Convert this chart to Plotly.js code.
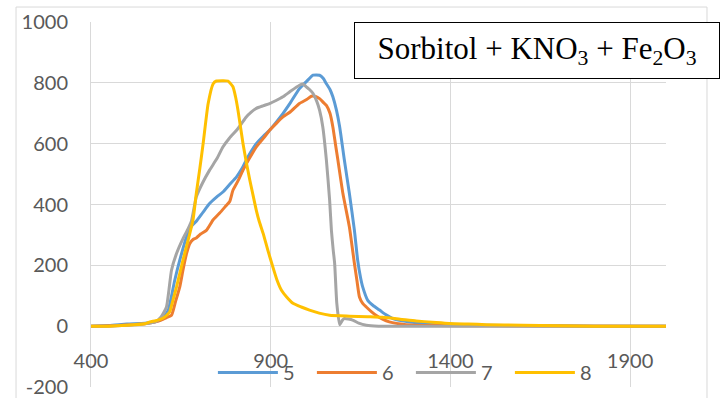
<!DOCTYPE html>
<html>
<head>
<meta charset="utf-8">
<script src="https://cdn.plot.ly/plotly-3.0.1.min.js"></script>
<style>html,body{margin:0;padding:0;background:#fff;}#chart{width:727px;height:398px;}</style>
</head>
<body>
<div id="chart"></div>
<script>
// Series 5 (blue)
const x5 = [400,450,500,550,580,600,615,633,647,666,680,693,712,730,750,767,785,805,820,832,845,860,880,897,915,934,955,980,1000,1018,1036,1046,1055,1065,1073,1083,1092,1105,1119,1133,1142,1150,1156,1170,1185,1203,1220,1240,1286,1342,1400,1500,1600,1700,1800,2000];
const y5 = [0,2,7,10,15,25,53,151,217,294,330,345,375,403,425,441,465,491,518,546,573,600,625,644,670,699,735,781,805,825,825,815,797,778,754,710,655,546,436,315,217,160,129,85,68,53,38,25,14,9,6,3,2,1,0,0];
// Series 6 (orange)
const x6 = [400,450,500,550,580,600,610,624,635,647,656,666,675,684,693,705,721,740,758,775,786,795,810,823,840,860,880,897,915,934,955,980,1000,1013,1025,1036,1047,1055,1065,1073,1080,1087,1101,1119,1133,1140,1147,1156,1166,1180,1193,1210,1230,1277,1350,1500,2000];
const y6 = [0,1,4,8,14,22,28,36,80,129,185,239,272,285,290,303,315,350,372,395,410,447,480,513,550,589,618,644,666,688,705,732,745,756,755,748,735,726,700,655,600,546,436,326,206,150,96,75,63,48,36,24,14,5,2,1,0];
// Series 7 (gray)
const x7 = [400,450,500,550,580,595,610,617,624,638,656,670,680,693,710,730,750,767,785,805,820,832,845,860,880,897,915,934,955,980,990,999,1008,1018,1028,1036,1045,1055,1064,1069,1074,1078,1084,1092,1100,1105,1128,1145,1166,1200,2000];
const y7 = [0,0,3,8,15,30,63,120,184,239,288,320,348,425,470,513,550,589,618,644,668,688,703,716,725,732,742,754,772,792,796,787,778,765,740,710,655,546,414,315,250,206,75,5,20,25,20,10,3,0,0];
// Series 8 (yellow)
const x8 = [400,450,500,550,564,580,600,610,619,628,638,656,675,684,693,703,712,726,740,749,765,781,795,802,809,816,823,832,842,851,860,868,879,892,906,918,930,945,962,985,1008,1035,1064,1119,1170,1211,1260,1305,1350,1397,1450,1500,1600,1700,1800,2000];
const y8 = [0,0,3,8,14,18,26,35,47,85,129,217,305,350,436,520,600,732,797,806,807,806,787,755,710,655,600,540,480,430,381,345,305,250,195,150,118,95,75,63,53,43,36,33,31,29,23,17,13,9,7,5,3,1,0,0];

const seriesNames = ['5','6','7','8'];
const colors = ['#5B9BD5','#ED7D31','#A5A5A5','#FFC000'];
const xTickVals = [400,900,1400,1900];
const xTickText = ['400','900','1400','1900'];
const yTickVals = [-200,0,200,400,600,800,1000];
const yTickText = ['-200','0','200','400','600','800','1000'];
const xs = [x5,x6,x7,x8];
const ys = [y5,y6,y7,y8];

const traces = xs.map((x,i)=>({
  x: x, y: ys[i], name: seriesNames[i], type:'scatter', mode:'lines',
  line:{color:colors[i], width:3, shape:'spline', smoothing:0.5},
  hoverinfo:'skip'
}));

const tickFont = {family:'Lato, "Liberation Sans", sans-serif', size:20, color:'#595959'};

const layout = {
  width:727, height:398,
  margin:{l:91, r:61, t:22, b:11, autoexpand:false},
  paper_bgcolor:'#fff', plot_bgcolor:'#fff',
  showlegend:true,
  legend:{orientation:'h', x:0.212, y:-0.014, xanchor:'left', yanchor:'bottom',
    font:tickFont, bgcolor:'rgba(0,0,0,0)', entrywidth:24, entrywidthmode:'pixels', itemwidth:60, tracegroupgap:0},
  xaxis:{range:[400,2000], tickvals:xTickVals, ticktext:xTickText,
    showgrid:true, gridcolor:'#D9D9D9', gridwidth:1, zeroline:false, showline:false,
    anchor:'free', position:1/6, ticks:'outside', ticklen:17, tickcolor:'rgba(0,0,0,0)',
    tickfont:tickFont, fixedrange:true, automargin:false},
  yaxis:{range:[-200,1000], tickvals:yTickVals, ticktext:yTickText, showgrid:true, gridcolor:'#D9D9D9', gridwidth:1,
    zeroline:true, zerolinecolor:'#D9D9D9', zerolinewidth:1, showline:true, linecolor:'#D9D9D9', linewidth:1,
    ticks:'outside', ticklen:18, tickcolor:'rgba(0,0,0,0)', tickfont:tickFont, fixedrange:true, automargin:false},
  shapes:[
    {type:'rect', xref:'paper', yref:'paper', x0:-0.1304, x1:1.0713, y0:-0.06, y1:1.041,
     line:{color:'#D9D9D9', width:1}, fillcolor:'rgba(0,0,0,0)', layer:'below'}
  ],
  annotations:[
    {xref:'paper', yref:'paper', x:0.457, y:1.0, xanchor:'left', yanchor:'top',
     text:'Sorbitol + KNO<sub>3</sub> + Fe<sub>2</sub>O<sub>3</sub>', showarrow:false,
     font:{family:'"Liberation Serif", "Times New Roman", serif', size:31, color:'#000'},
     bgcolor:'#fff', bordercolor:'#000', borderwidth:1, borderpad:3, width:358, height:49, align:'center'}
  ]
};

Plotly.newPlot('chart', traces, layout, {staticPlot:true, displayModeBar:false});
</script>
</body>
</html>
